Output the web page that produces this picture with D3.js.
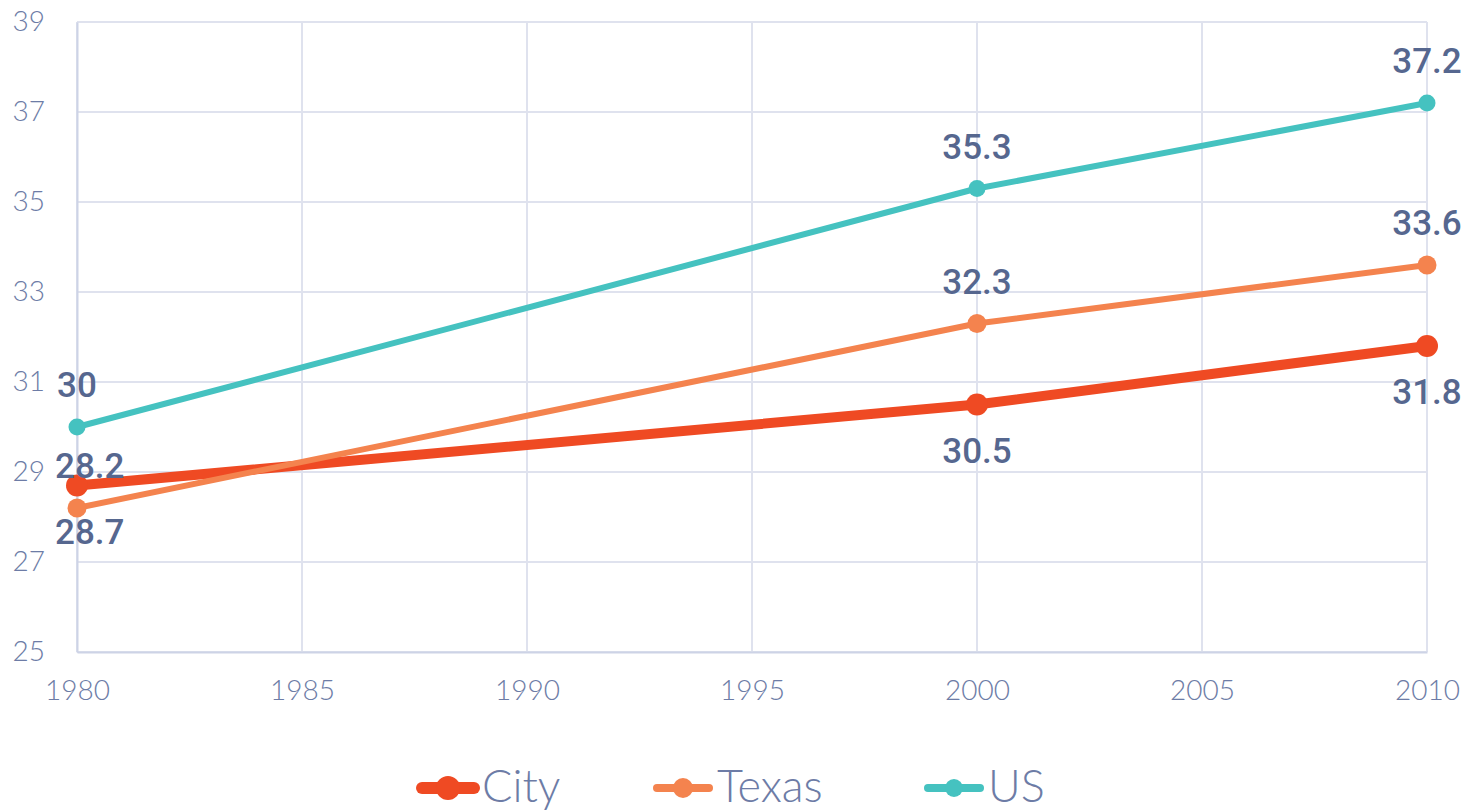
<!DOCTYPE html>
<html>
<head>
<meta charset="utf-8">
<script src="https://cdn.jsdelivr.net/npm/d3@7"></script>
<style>
  html, body { margin: 0; padding: 0; background: #fff; }
  #chart { width: 1474px; height: 811px; }
</style>
</head>
<body>
<div id="chart"></div>
<script>
// data
const years = [1980, 2000, 2010];
const cityValues = [28.7, 30.5, 31.8];
const texasValues = [28.2, 32.3, 33.6];
const usValues = [30, 35.3, 37.2];
const seriesNames = ["City", "Texas", "US"];
const xTicks = [1980, 1985, 1990, 1995, 2000, 2005, 2010];
const yTicks = [25, 27, 29, 31, 33, 35, 37, 39];
// label placement: which side of the point
const labelSide = ["below", "above", "above"];

const width = 1474, height = 811;
const margin = { top: 22, right: 47, bottom: 159, left: 77 };

const series = [
  { name: seriesNames[0], values: cityValues, color: "#ef4a23", stroke: 10, r: 11, lw: 12, lr: 12 },
  { name: seriesNames[1], values: texasValues, color: "#f4834e", stroke: 6, r: 9.5, lw: 8, lr: 10 },
  { name: seriesNames[2], values: usValues, color: "#45c2c0", stroke: 6, r: 8.5, lw: 8, lr: 9 },
];

const x = d3.scaleLinear()
  .domain([1980, 2010])
  .range([margin.left, width - margin.right]);

const y = d3.scaleLinear()
  .domain([25, 39])
  .range([height - margin.bottom, margin.top]);

const svg = d3.select("#chart")
  .append("svg")
  .attr("width", width)
  .attr("height", height);

// grid
svg.append("g")
  .selectAll("line")
  .data(yTicks)
  .join("line")
  .attr("x1", margin.left)
  .attr("x2", width - margin.right)
  .attr("y1", d => y(d))
  .attr("y2", d => y(d))
  .attr("stroke", "#dfe2ee")
  .attr("stroke-width", 2);

svg.append("g")
  .selectAll("line")
  .data(xTicks)
  .join("line")
  .attr("x1", d => x(d))
  .attr("x2", d => x(d))
  .attr("y1", margin.top)
  .attr("y2", height - margin.bottom)
  .attr("stroke", "#dfe2ee")
  .attr("stroke-width", 2);

// axes
const fontTick = "Lato, 'Open Sans', sans-serif";

svg.append("g")
  .attr("transform", `translate(0,${height - margin.bottom})`)
  .call(d3.axisBottom(x).tickValues(xTicks).tickFormat(d3.format("d")).tickSize(0).tickPadding(28))
  .call(g => g.select(".domain").attr("stroke", "#cdd3e6").attr("stroke-width", 2))
  .call(g => g.selectAll("text")
    .attr("font-family", fontTick)
    .attr("font-weight", 300)
    .attr("font-size", 28)
    .attr("fill", "#6d7ca6"));

svg.append("g")
  .attr("transform", `translate(${margin.left},0)`)
  .call(d3.axisLeft(y).tickValues(yTicks).tickSize(0).tickPadding(32))
  .call(g => g.select(".domain").attr("stroke", "#cdd3e6").attr("stroke-width", 2))
  .call(g => g.selectAll("text")
    .attr("font-family", fontTick)
    .attr("font-weight", 300)
    .attr("font-size", 28)
    .attr("fill", "#6d7ca6"));

// lines
const line = d3.line()
  .x((d, i) => x(years[i]))
  .y(d => y(d));

series.forEach(s => {
  svg.append("path")
    .datum(s.values)
    .attr("fill", "none")
    .attr("stroke", s.color)
    .attr("stroke-width", s.stroke)
    .attr("stroke-linejoin", "round")
    .attr("d", line);

  svg.append("g")
    .selectAll("circle")
    .data(s.values)
    .join("circle")
    .attr("cx", (d, i) => x(years[i]))
    .attr("cy", d => y(d))
    .attr("r", s.r)
    .attr("fill", s.color);
});

// data labels (kept from running past the left edge of the plot)
const labelMinX = margin.left - 22;
series.forEach((s, si) => {
  svg.append("g")
    .selectAll("text")
    .data(s.values)
    .join("text")
    .attr("x", (d, i) => x(years[i]))
    .attr("y", d => y(d) + (labelSide[si] === "above" ? -42 : 46))
    .attr("dy", "0.35em")
    .attr("text-anchor", "middle")
    .attr("font-family", "Roboto, sans-serif")
    .attr("font-weight", 500)
    .attr("font-size", 35)
    .attr("fill", "#56678f")
    .text(d => d)
    .each(function () {
      const b = this.getBBox();
      if (b.x < labelMinX) {
        d3.select(this).attr("x", +d3.select(this).attr("x") + (labelMinX - b.x));
      }
    });
});

// legend
const legendX = [448, 683, 954];
const legendY = 788;
const legend = svg.append("g")
  .selectAll("g")
  .data(series)
  .join("g")
  .attr("transform", (d, i) => `translate(${legendX[i]},${legendY})`);

legend.append("line")
  .attr("x1", -26)
  .attr("x2", 26)
  .attr("stroke", d => d.color)
  .attr("stroke-width", d => d.lw)
  .attr("stroke-linecap", "round");

legend.append("circle")
  .attr("r", d => d.lr)
  .attr("fill", d => d.color);

legend.append("text")
  .attr("x", 34)
  .attr("y", 14)
  .attr("font-family", fontTick)
  .attr("font-weight", 300)
  .attr("font-size", 45)
  .attr("fill", "#6d7ca6")
  .text(d => d.name);
</script>
</body>
</html>
